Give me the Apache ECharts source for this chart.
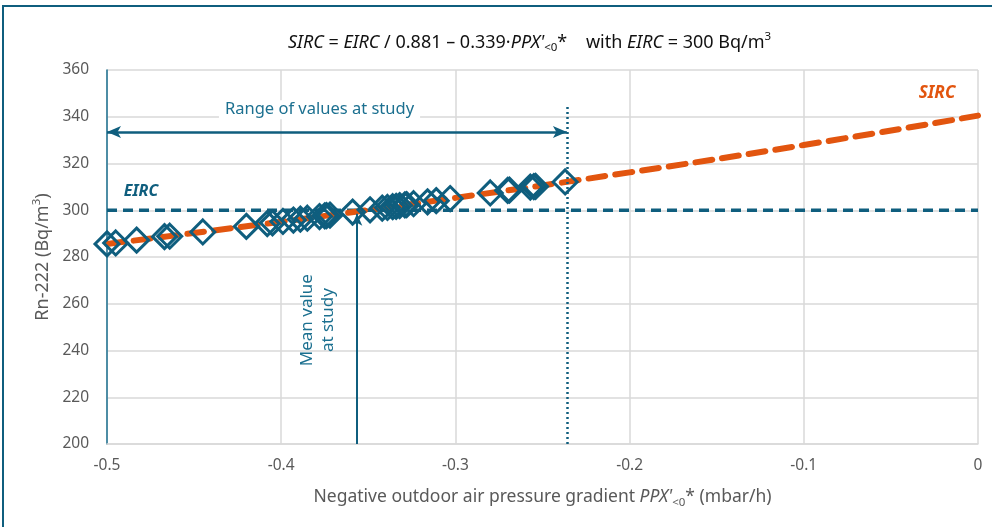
<!DOCTYPE html>
<html><head><meta charset="utf-8">
<script src="https://cdn.jsdelivr.net/npm/echarts@6/dist/echarts.min.js"></script>
<style>html,body{margin:0;padding:0;background:#fff}#c{width:992px;height:527px}</style>
</head><body><div id="c"></div>
<script>
// Study points: PPX'<0* (mbar/h) and SIRC (Bq/m3)
const studyX = [-0.500,-0.495,-0.483,-0.467,-0.464,-0.445,-0.420,-0.408,-0.405,-0.399,-0.393,-0.389,-0.385,-0.378,-0.375,-0.374,-0.372,-0.359,-0.349,-0.342,-0.339,-0.336,-0.334,-0.332,-0.329,-0.328,-0.324,-0.316,-0.311,-0.303,-0.280,-0.270,-0.269,-0.257,-0.255,-0.254,-0.237];
const studyY = [285.6,286.0,287.2,288.7,288.9,290.7,293.1,294.3,294.6,295.2,295.8,296.2,296.6,297.3,297.6,297.7,297.9,299.2,300.2,300.9,301.2,301.5,301.7,302.0,302.3,302.4,302.8,303.6,304.1,305.0,307.4,308.5,308.6,309.9,310.1,310.2,312.1];
// SIRC curve read at axis ticks
const sircX = [-0.5,-0.4,-0.3,-0.2,-0.1,0];
const sircY = [285.6,295.1,305.3,316.2,327.9,340.5];
// EIRC constant
const eircX = [-0.5,0];
const eircY = [300,300];
// annotations
const rangeMin = -0.5, rangeMax = -0.236, meanX = -0.3565;
const xTicks = [-0.5,-0.4,-0.3,-0.2,-0.1,0];
const yTicks = [200,220,240,260,280,300,320,340,360];

const TEAL = '#0F5E7E', TEAL2 = '#1C7090', ORANGE = '#E2550F', GRAY = '#595959';
const zip = (a,b)=>a.map((v,i)=>[v,b[i]]);
const chart = echarts.init(document.getElementById('c'));
const F = 'Noto Sans';
chart.setOption({
  animation:false,
  textStyle:{fontFamily:F},
  title:{
    text:"{i|SIRC} = {i|EIRC} / 0.881 – 0.339·{i|PPX'}{sub|<0}*    with {i|EIRC} = 300 Bq/m{sup|3}",
    left:283, top:26,
    textStyle:{fontSize:18, fontWeight:'normal', color:'#111',
      rich:{i:{fontStyle:'italic',fontSize:18,color:'#111'},
            sub:{fontSize:11.5,color:'#111',padding:[11,0,0,0]},
            sup:{fontSize:11.5,color:'#111',padding:[0,0,11,0]}}}
  },
  graphic:[{type:'rect',shape:{x:3,y:6,width:1010,height:540},style:{fill:'none',stroke:TEAL,lineWidth:2},silent:true}],
  grid:{left:107,right:14,top:70,bottom:83},
  xAxis:{type:'value',min:-0.5,max:0,interval:0.1,
    axisLine:{show:true,onZero:false,lineStyle:{color:'#D9D9D9',width:1.5}},
    axisTick:{show:false},
    splitLine:{show:true,lineStyle:{color:'#D9D9D9',width:1.5}},
    axisLabel:{color:GRAY,fontSize:15.5,margin:14,formatter:v=>String(Math.round(v*10)/10)},
    name:"Negative outdoor air pressure gradient {i|PPX'}{sub|<0}* (mbar/h)",
    nameLocation:'middle',nameGap:42,
    nameTextStyle:{color:GRAY,fontSize:17.5,rich:{i:{fontStyle:'italic',fontSize:17.5,color:GRAY},sub:{fontSize:11.5,color:GRAY,padding:[11,0,0,0]}}}
  },
  yAxis:{type:'value',min:200,max:360,interval:20,
    axisLine:{show:true,onZero:false,lineStyle:{color:TEAL2,width:1.5}},
    axisTick:{show:false},
    splitLine:{show:true,lineStyle:{color:'#D9D9D9',width:1.5}},
    axisLabel:{color:GRAY,fontSize:15.5,margin:18},
    name:'Rn-222 (Bq/m{sup|3})',nameLocation:'middle',nameGap:46,
    nameTextStyle:{color:GRAY,fontSize:18,rich:{sup:{fontSize:11.5,color:GRAY,padding:[0,0,11,0]}}}
  },
  series:[
    {type:'line',name:'EIRC',data:zip(eircX,eircY),symbol:'none',z:2,
     lineStyle:{color:TEAL,width:3.5,type:[10,6]},
     markLine:{silent:true,symbol:'none',label:{show:false},animation:false,
       data:[
         [{coord:[rangeMax,200],lineStyle:{color:TEAL,width:2.5,type:[2,3]},symbol:'none'},{coord:[rangeMax,344.5],symbol:'none'}],
         [{coord:[rangeMin,333.5],lineStyle:{color:TEAL,width:2.5,type:'solid'},symbol:'arrow',symbolSize:[9,14]},{coord:[rangeMax,333.5],symbol:'arrow',symbolSize:[9,14]}],
         [{coord:[meanX,200],lineStyle:{color:TEAL,width:2,type:'solid'},symbol:'none'},{coord:[meanX,298.5],symbol:'arrow',symbolSize:[8,12]}]
       ]},
     markPoint:{silent:true,symbol:'rect',symbolSize:1,itemStyle:{color:'rgba(0,0,0,0)'},
       data:[
         {coord:[-0.378,343],label:{show:true,position:'inside',formatter:'Range of values at study',color:TEAL2,fontSize:16.5,backgroundColor:'#fff',padding:[1,6]}},
         {coord:[-0.379,253],label:{show:true,position:'inside',rotate:90,align:'center',verticalAlign:'middle',formatter:'Mean value\nat study',color:TEAL2,fontSize:17,lineHeight:21}},
         {coord:[-0.4805,308.2],label:{show:true,position:'inside',formatter:'EIRC',color:TEAL,fontSize:16,fontStyle:'italic',fontWeight:'bold'}},
         {coord:[-0.0235,350.2],label:{show:true,position:'inside',formatter:'SIRC',color:ORANGE,fontSize:17,fontStyle:'italic',fontWeight:'bold'}}
       ]}
    },
    {type:'line',name:'SIRC',data:zip(sircX,sircY),smooth:true,symbol:'none',z:3,
     lineStyle:{color:ORANGE,width:6,type:[17,10],cap:'round'}},
    {type:'scatter',name:'points',data:zip(studyX,studyY),symbol:'diamond',symbolSize:[24,24],z:4,clip:false,
     itemStyle:{color:'rgba(0,0,0,0)',borderColor:TEAL,borderWidth:3,opacity:1}}
  ]
});
</script></body></html>
